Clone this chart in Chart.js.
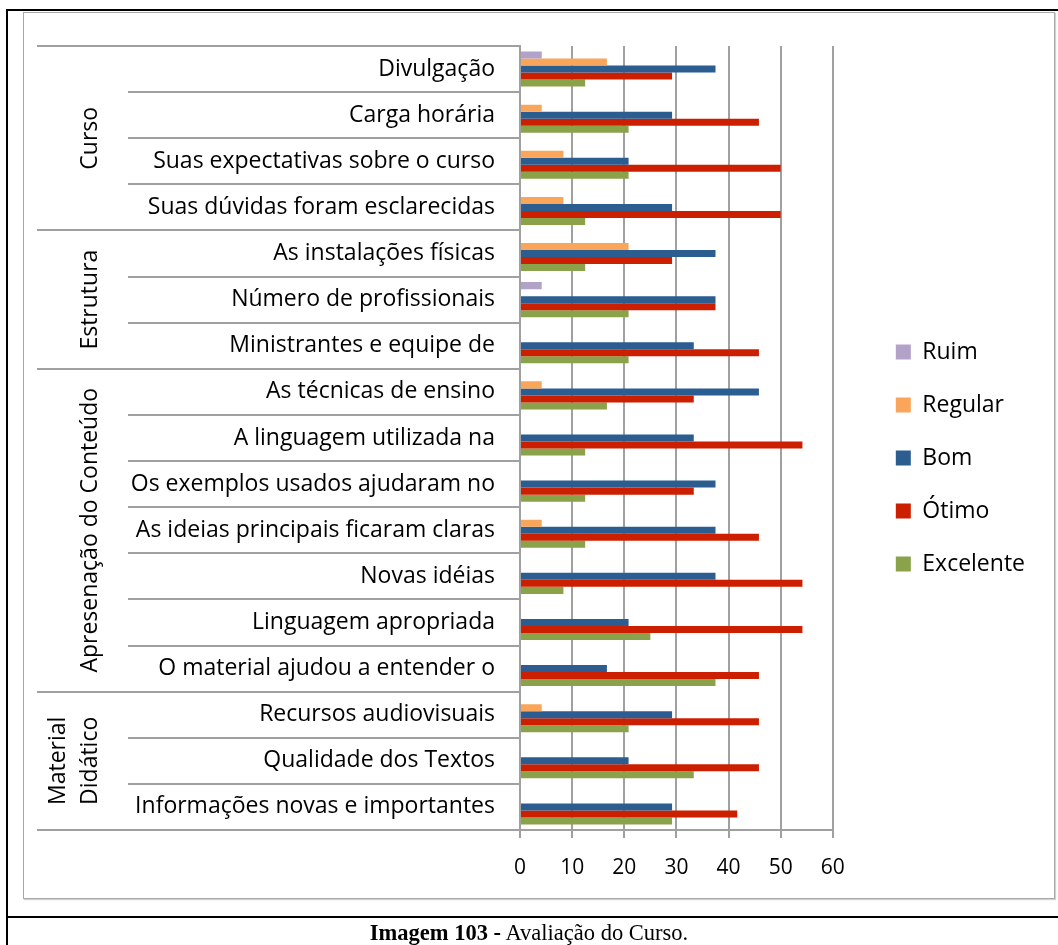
<!DOCTYPE html>
<html lang="pt">
<head>
  <meta charset="UTF-8">
  <title>Avaliação do Curso</title>
  <script src="https://cdn.jsdelivr.net/npm/chart.js"></script>
  <style>
        body, html {
          margin: 0;
          padding: 0;
          background: #fff;
          overflow: hidden;
        }
        .frame-left { position: absolute; left: 6px; top: 9px; width: 2px; height: 936px; background: #000; }
        .frame-top { position: absolute; left: 6px; top: 9px; width: 1052px; height: 2px; background: #000; }
        .frame-mid { position: absolute; left: 6px; top: 916px; width: 1052px; height: 2px; background: #000; }
        .chart-box {
          position: absolute;
          left: 23px;
          top: 12px;
          width: 1030px;
          height: 885px;
          border: 1px solid #a8a8a8;
          box-shadow: 1px 1px 1px #d0d0d0;
        }
        #wrap { position: absolute; left: 0; top: 0; width: 1058px; height: 945px; }
        .caption {
          position: absolute;
          left: 0;
          width: 1058px;
          top: 920px;
          text-align: center;
          font-family: 'Liberation Serif', serif;
          font-size: 22.5px;
          color: #000;
        }
    </style>
</head>
<body>
    <div class="frame-left"></div>
    <div class="frame-top"></div>
    <div class="frame-mid"></div>
    <div class="chart-box"></div>
    <div id="wrap"><canvas id="chart"></canvas></div>
    <div class="caption"><b>Imagem 103 -</b> Avaliação do Curso.</div>

    <script>
        const categories = [
            'Divulgação', 'Carga horária', 'Suas expectativas sobre o curso', 'Suas dúvidas foram esclarecidas',
            'As instalações físicas', 'Número de profissionais', 'Ministrantes e equipe de',
            'As técnicas de ensino', 'A linguagem utilizada na', 'Os exemplos usados ajudaram no',
            'As ideias principais ficaram claras', 'Novas idéias', 'Linguagem apropriada', 'O material ajudou a entender o',
            'Recursos audiovisuais', 'Qualidade dos Textos', 'Informações novas e importantes'
        ];
        // groups: label lines, first and last category index
        const groups = [
            { label: ['Curso'], from: 0, to: 3 },
            { label: ['Estrutura'], from: 4, to: 6 },
            { label: ['Apresenação do Conteúdo'], from: 7, to: 13 },
            { label: ['Material', 'Didático'], from: 14, to: 16 }
        ];
        const seriesNames = ['Ruim', 'Regular', 'Bom', 'Ótimo', 'Excelente'];
        const seriesColors = ['#b3a2c7', '#f9a65a', '#2b5d91', '#cc1f00', '#8aa24a'];

        const ruim      = [4.17, 0, 0, 0, 0, 4.17, 0, 0, 0, 0, 0, 0, 0, 0, 0, 0, 0];
        const regular   = [16.67, 4.17, 8.33, 8.33, 20.83, 0, 0, 4.17, 0, 0, 4.17, 0, 0, 0, 4.17, 0, 0];
        const bom       = [37.5, 29.17, 20.83, 29.17, 37.5, 37.5, 33.33, 45.83, 33.33, 37.5, 37.5, 37.5, 20.83, 16.67, 29.17, 20.83, 29.17];
        const otimo     = [29.17, 45.83, 50, 50, 29.17, 37.5, 45.83, 33.33, 54.17, 33.33, 45.83, 54.17, 54.17, 45.83, 45.83, 45.83, 41.67];
        const excelente = [12.5, 20.83, 20.83, 12.5, 12.5, 20.83, 20.83, 16.67, 12.5, 12.5, 12.5, 8.33, 25, 37.5, 20.83, 33.33, 29.17];
        const seriesValues = [ruim, regular, bom, otimo, excelente];

        const xTicks = [0, 10, 20, 30, 40, 50, 60];

        const gray = '#a0a0a0';
        const groupLineLeft = 37;
        const catLineLeft = 128;
        const legendShift = 33;
        const legendLift = 10;
        const labelSize = 23;

        Chart.defaults.font.family = '"Open Sans", sans-serif';
        Chart.defaults.font.size = labelSize;
        Chart.defaults.color = '#000';

        // group separators + rotated group names on the left
        const groupAxis = {
            id: 'groupAxis',
            afterLayout(chart) {
                const lg = chart.legend;
                lg.left += legendShift;
                lg.right += legendShift;
                lg.top -= legendLift;
                lg.bottom -= legendLift;
            },
            afterDraw(chart) {
                const ctx = chart.ctx;
                const y = chart.scales.y;
                ctx.save();
                ctx.strokeStyle = gray;
                ctx.lineWidth = 2;
                groups.forEach(g => {
                    [g.from - 0.5, g.to + 0.5].forEach(v => {
                        const py = Math.round(y.getPixelForValue(v));
                        ctx.beginPath();
                        ctx.moveTo(groupLineLeft, py);
                        ctx.lineTo(catLineLeft, py);
                        ctx.stroke();
                    });
                });
                ctx.fillStyle = '#000';
                ctx.font = labelSize + 'px "Open Sans", sans-serif';
                ctx.textAlign = 'center';
                ctx.textBaseline = 'middle';
                groups.forEach(g => {
                    const cy = (y.getPixelForValue(g.from - 0.5) + y.getPixelForValue(g.to + 0.5)) / 2;
                    const n = g.label.length;
                    g.label.forEach((t, i) => {
                        const cx = 90 - (n - 1 - i) * 32;
                        ctx.save();
                        ctx.translate(cx, cy);
                        ctx.rotate(-Math.PI / 2);
                        ctx.fillText(t, 0, 0);
                        ctx.restore();
                    });
                });
                ctx.restore();
            }
        };

        const ctx = document.getElementById('chart').getContext('2d');
        new Chart(ctx, {
            type: 'bar',
            data: {
                labels: categories,
                datasets: seriesNames.map((name, i) => ({
                    label: name,
                    data: seriesValues[i],
                    backgroundColor: seriesColors[i],
                    borderWidth: 0,
                    barPercentage: 1,
                    categoryPercentage: 0.76
                }))
            },
            options: {
                indexAxis: 'y',
                responsive: true,
                maintainAspectRatio: false,
                animation: false,
                devicePixelRatio: 1,
                layout: {
                    padding: { left: groupLineLeft, top: 46, bottom: 55, right: 56 }
                },
                scales: {
                    x: {
                        min: 0,
                        max: 60,
                        afterFit: s => { s.height = 60; },
                        afterBuildTicks: s => { s.ticks = xTicks.map(v => ({ value: v })); },
                        grid: { color: gray, lineWidth: 2, tickLength: 8 },
                        border: { color: gray, width: 2 },
                        ticks: { padding: 17, font: { size: 21 } }
                    },
                    y: {
                        afterFit: s => { s.width = 520 - groupLineLeft; },
                        grid: { offset: true, drawOnChartArea: false, color: gray, lineWidth: 2, tickLength: 520 - catLineLeft },
                        border: { color: gray, width: 2 },
                        ticks: { padding: -(520 - catLineLeft - 25), font: { size: labelSize }, autoSkip: false }
                    }
                },
                plugins: {
                    legend: {
                        position: 'right',
                        labels: { boxWidth: 15, boxHeight: 15, padding: 30, font: { size: labelSize } }
                    },
                    tooltip: { enabled: false }
                }
            },
            plugins: [groupAxis]
        });
    </script>

</body>
</html>
